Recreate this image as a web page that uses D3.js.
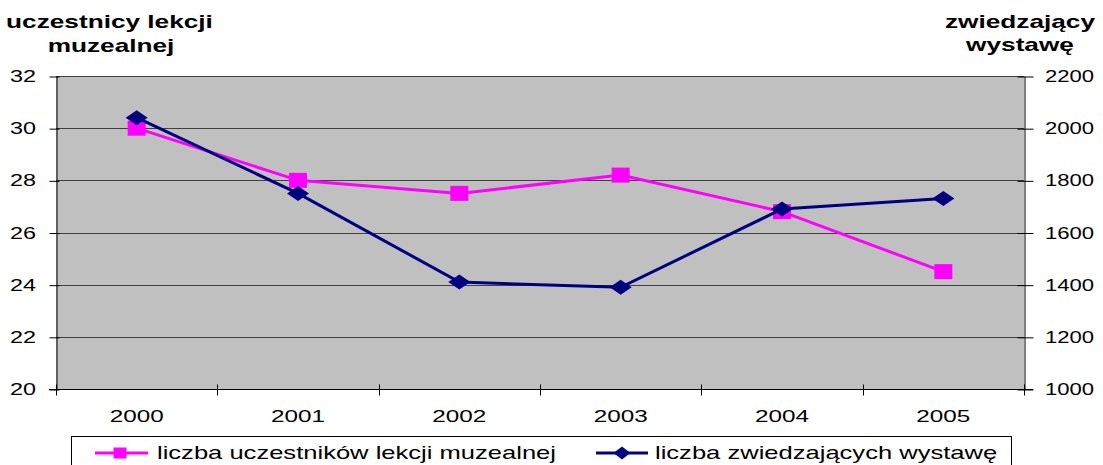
<!DOCTYPE html>
<html>
<head>
<meta charset="utf-8">
<script src="https://cdn.jsdelivr.net/npm/d3@7"></script>
<style>
  html, body { margin: 0; padding: 0; background: #fff; }
  svg { display: block; }
  text { font-family: "Liberation Sans", Arial, sans-serif; fill: #000; }
</style>
</head>
<body>
<svg id="chart" width="1103" height="465"></svg>
<script>
// Years on the category axis
const years = ["2000", "2001", "2002", "2003", "2004", "2005"];
// Participants of museum lessons (left axis)
const lessonParticipants = [30, 28, 27.5, 28.2, 26.8, 24.5];
// Exhibition visitors (right axis)
const exhibitionVisitors = [2040, 1750, 1410, 1390, 1690, 1730];
// Axis tick values
const leftTicks = [20, 22, 24, 26, 28, 30, 32];
const rightTicks = [1000, 1200, 1400, 1600, 1800, 2000, 2200];
// Series names for the legend
const seriesNames = ["liczba uczestników lekcji muzealnej", "liczba zwiedzających wystawę"];

const svg = d3.select("#chart");
const plot = { left: 56, right: 1024, top: 76, bottom: 389 };

// Text helper: places a horizontally stretched label
function label(g, x, y, str, opts = {}) {
  return g.append("text")
    .attr("transform", `translate(${x},${y}) scale(${opts.sx || 1.42},1)`)
    .attr("text-anchor", opts.anchor || "start")
    .attr("font-size", opts.size || 18)
    .attr("font-weight", opts.weight || "normal")
    .text(str);
}

const x = d3.scaleBand().domain(years).range([plot.left, plot.right]);
const yL = d3.scaleLinear().domain([20, 32]).range([plot.bottom, plot.top]);
const yR = d3.scaleLinear().domain([1000, 2200]).range([plot.bottom, plot.top]);

// Plot area
svg.append("rect")
  .attr("x", plot.left).attr("y", plot.top)
  .attr("width", plot.right - plot.left).attr("height", plot.bottom - plot.top)
  .attr("fill", "#c0c0c0");

// Horizontal gridlines
svg.append("g").selectAll("line").data(leftTicks).join("line")
  .attr("x1", plot.left).attr("x2", plot.right)
  .attr("y1", d => Math.round(yL(d)) + 0.5).attr("y2", d => Math.round(yL(d)) + 0.5)
  .attr("stroke", "#404040").attr("stroke-width", 1);

// Left axis
const gL = svg.append("g").attr("transform", `translate(${plot.left + 0.5},0)`);
gL.call(d3.axisLeft(yL).tickValues(leftTicks).tickSize(7).tickSizeOuter(0).tickFormat(""));
gL.selectAll(".tick line").attr("stroke", "#000").attr("x2", -7).attr("x1", 3)
  .attr("transform", "translate(0,0.5)");
gL.select(".domain").attr("stroke", "#000");
leftTicks.forEach(v => label(svg, 36, yL(v) + 6, String(v), { anchor: "end", size: 16, sx: 1.46 }));

// Right axis
const gR = svg.append("g").attr("transform", `translate(${plot.right + 0.5},0)`);
gR.call(d3.axisRight(yR).tickValues(rightTicks).tickSize(9).tickSizeOuter(0).tickFormat(""));
gR.selectAll(".tick line").attr("stroke", "#000").attr("x1", -7)
  .attr("transform", "translate(0,0.5)");
gR.select(".domain").attr("stroke", "#000");
rightTicks.forEach(v => label(svg, 1045, yR(v) + 6, String(v), { size: 16, sx: 1.38 }));

// Bottom axis: ticks between categories
const gB = svg.append("g").attr("transform", `translate(0,${plot.bottom + 0.5})`);
gB.append("line").attr("x1", plot.left - 7).attr("x2", plot.right + 9).attr("stroke", "#000");
const bounds = years.map(d => x(d)).concat([plot.right]);
gB.selectAll("line.tk").data(bounds).join("line").attr("class", "tk")
  .attr("x1", d => Math.round(d) + 0.5).attr("x2", d => Math.round(d) + 0.5)
  .attr("y1", -5).attr("y2", 6).attr("stroke", "#000");
years.forEach(yr => label(svg, x(yr) + x.bandwidth() / 2, 422, yr, { anchor: "middle", size: 17, sx: 1.43 }));

// Axis titles
const titleOpts = { anchor: "middle", size: 19, weight: "bold", sx: 1.38 };
label(svg, 109.5, 28, "uczestnicy lekcji", titleOpts);
label(svg, 111, 52, "muzealnej", titleOpts);
label(svg, 1020, 28, "zwiedzający", titleOpts);
label(svg, 1020, 51, "wystawę", titleOpts);

const cx = d => x(d) + x.bandwidth() / 2;
const PINK = "#ff00ff", NAVY = "#000080";

// Marker shapes
function square(g, px, py, w, h) {
  g.append("rect").attr("x", px - w / 2).attr("y", py - h / 2).attr("width", w).attr("height", h)
    .attr("fill", PINK);
}
function diamond(g, px, py, w, h) {
  g.append("path")
    .attr("d", `M${px - w / 2},${py} L${px},${py - h / 2} L${px + w / 2},${py} L${px},${py + h / 2} Z`)
    .attr("fill", NAVY);
}

// Lesson participants series
const lineL = d3.line().x((d, i) => cx(years[i])).y(d => yL(d));
svg.append("path").datum(lessonParticipants).attr("d", lineL)
  .attr("fill", "none").attr("stroke", PINK).attr("stroke-width", 3);
const mL = svg.append("g");
lessonParticipants.forEach((v, i) => square(mL, cx(years[i]), yL(v), 18, 15));

// Exhibition visitors series
const lineR = d3.line().x((d, i) => cx(years[i])).y(d => yR(d));
svg.append("path").datum(exhibitionVisitors).attr("d", lineR)
  .attr("fill", "none").attr("stroke", NAVY).attr("stroke-width", 3);
const mR = svg.append("g");
exhibitionVisitors.forEach((v, i) => diamond(mR, cx(years[i]), yR(v), 22, 15));

// Legend
const lg = svg.append("g");
lg.append("rect").attr("x", 71.5).attr("y", 436.5).attr("width", 940).attr("height", 40)
  .attr("fill", "#fff").attr("stroke", "#000");
lg.append("line").attr("x1", 95).attr("x2", 148).attr("y1", 453).attr("y2", 453)
  .attr("stroke", PINK).attr("stroke-width", 3);
square(lg, 120, 453, 13, 11);
label(lg, 157, 459, seriesNames[0]);
lg.append("line").attr("x1", 596).attr("x2", 648).attr("y1", 453).attr("y2", 453)
  .attr("stroke", NAVY).attr("stroke-width", 3);
diamond(lg, 622, 453, 17, 13);
label(lg, 655, 459, seriesNames[1]);
</script>
</body>
</html>
